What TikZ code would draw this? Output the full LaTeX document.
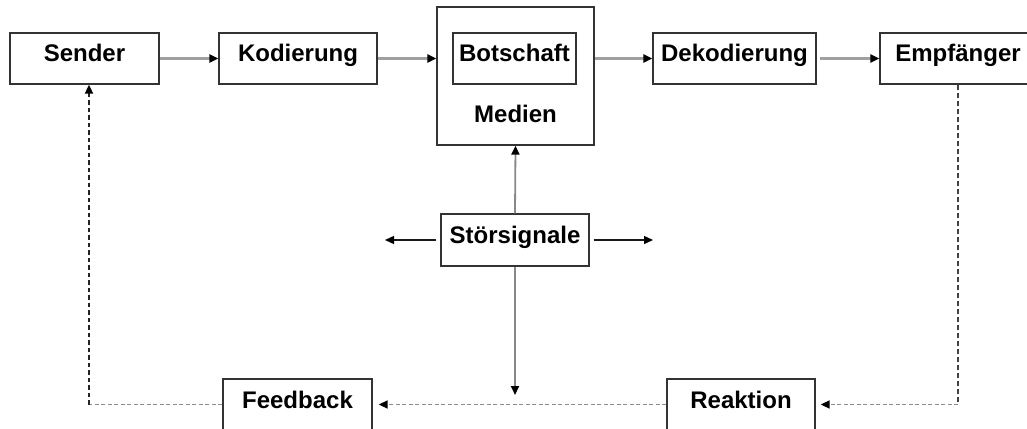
\documentclass[tikz,border=0pt]{standalone}
\usepackage{fontspec}
\setmainfont{Liberation Sans}
\usetikzlibrary{arrows.meta}

\definecolor{boxline}{HTML}{333333}
\definecolor{flowgrey}{HTML}{A0A0A0}
\definecolor{dashgrey}{HTML}{8C8C8C}

\begin{document}
\begin{tikzpicture}[x=1pt,y=-1pt,
  box/.style={draw=boxline, line width=1.3pt, inner sep=0pt,
    minimum height=51pt, text height=29pt, text depth=22pt,
    font=\fontsize{24}{28}\selectfont\bfseries},
  head/.style={-{Triangle[length=9pt,width=8pt,color=black]}},
  flow/.style={draw=flowgrey, line width=2.2pt, head},
  noise/.style={draw=black!90, line width=1.4pt, head},
  noisev/.style={draw=flowgrey!85!black, line width=1.8pt, head},
  back/.style={draw=dashgrey, line width=1.6pt, dash pattern=on 4pt off 2.5pt, head},
  backup/.style={draw=black!85, line width=1.7pt, dash pattern=on 4.5pt off 3pt, head},
  backdown/.style={draw=black!75, line width=1.2pt, dash pattern=on 5pt off 3pt},
]
\useasboundingbox (0,0) rectangle (1027,428);
\clip (0,0) rectangle (1027,428);

% top chain
\node[box, minimum width=149pt] (sender) at (84.5,58.5) {Sender};
\node[box, minimum width=158pt] (kod) at (298,58.5) {Kodierung};
\node[box, minimum width=157pt, minimum height=138pt, text height=115pt, text depth=23pt]
  (medien) at (515.5,76) {Medien};
\node[box, minimum width=123pt, text height=28.5pt, text depth=22.5pt] (botschaft) at (514.5,58.5) {Botschaft};
\node[box, minimum width=163pt] (dekod) at (734.5,58.5) {Dekodierung};
\node[box, minimum width=156pt] (empf) at (958,58.5) {Empfänger};

% noise source
\node[box, minimum width=148pt, minimum height=52pt, text height=29.5pt, text depth=22.5pt]
  (stoer) at (515,240) {Störsignale};

% bottom row
\node[box, minimum width=149pt] (feedback) at (297.5,404.5) {Feedback};
\node[box, minimum width=148pt] (reaktion) at (741,404.5) {Reaktion};

% free ends of the noise arrows
\coordinate (nleft) at (385,240);
\coordinate (nright) at (653,240);
\coordinate (ndown) at (515,395);

% main flow
\draw[flow] (sender.east) -- (kod.west);
\draw[flow] (kod.east) -- (kod.east -| medien.west);
\draw[flow] (dekod.west -| medien.east) -- (dekod.west);
\draw[flow, shorten <=3pt] (dekod.east) -- (empf.west);

% noise arrows
\draw[noisev] (stoer.north) -- (medien.south);
\draw[noisev] (stoer.south) -- (ndown);
\draw[noise, shorten <=4pt] (stoer.west) -- (nleft);
\draw[noise, shorten <=4pt] (stoer.east) -- (nright);

% feedback loop
\draw[backdown] (empf.south) |- (reaktion.east -| empf.south);
\draw[back, shorten >=5pt] (reaktion.east -| empf.south) -- (reaktion.east);
\draw[back, shorten >=6pt] (reaktion.west) -- (feedback.east);
\draw[back, -] (feedback.west) -- ([xshift=4.5pt]feedback.west -| sender.south);
\draw[backup] ([xshift=4.5pt]feedback.west -| sender.south) -- ([xshift=4.5pt]sender.south);
\end{tikzpicture}
\end{document}
